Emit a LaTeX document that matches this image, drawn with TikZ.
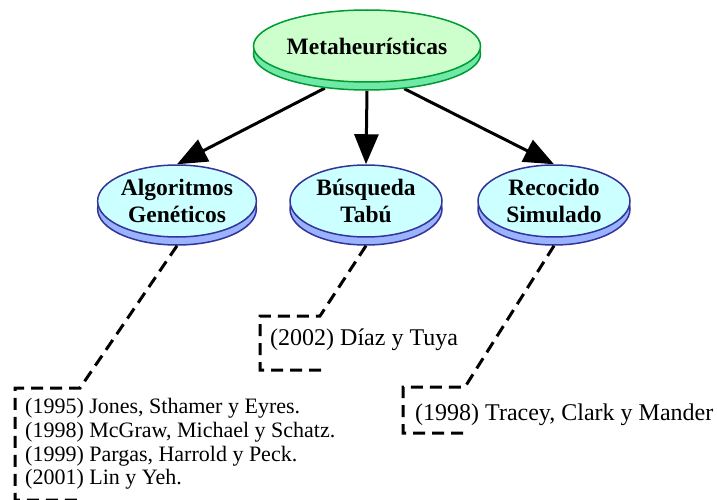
\documentclass[tikz,border=0pt]{standalone}
\usepackage{fontspec}
\setmainfont{Liberation Serif}
\usetikzlibrary{shapes.geometric,arrows.meta}
\pgfdeclarelayer{background}
\pgfsetlayers{background,main}
\definecolor{gfill}{HTML}{CCFFCC}
\definecolor{gside}{HTML}{70E8A8}
\definecolor{gline}{HTML}{009A33}
\definecolor{bfill}{HTML}{CCFFFF}
\definecolor{bside}{HTML}{99B3FF}
\definecolor{bline}{HTML}{333399}
\tikzset{
  disk/.style={ellipse, inner sep=0pt, line width=1.5pt,
    font=\bfseries\fontsize{23.5}{27}\selectfont, align=center},
  greendisk/.style={disk, draw=gline, fill=gfill,
    preaction={fill=gside, draw=gline, line width=1.5pt, transform canvas={yshift=-8pt}}},
  bluedisk/.style={disk, draw=bline, fill=bfill,
    preaction={fill=bside, draw=bline, line width=1.5pt, transform canvas={yshift=-8pt}}},
  arr/.style={line width=3pt, -{Triangle[length=30pt,width=24pt]}},
  leader/.style={line width=3pt, dash pattern=on 12pt off 7pt},
  ref/.style={anchor=base west, inner sep=0pt, font=\fontsize{22}{24}\selectfont},
  bigref/.style={ref, font=\fontsize{24}{26}\selectfont}
}
\begin{document}
\begin{tikzpicture}[x=1pt,y=-1pt]
\useasboundingbox (0,0) rectangle (717,500);
\node[greendisk, minimum width=190pt, minimum height=72pt] (meta) at (367,46) {Metaheurísticas};
\node[bluedisk, minimum width=152pt, minimum height=72pt] (alg) at (177,201) {Algoritmos\\Genéticos};
\node[bluedisk, minimum width=152pt, minimum height=72pt] (bus) at (366,201) {Búsqueda\\Tabú};
\node[bluedisk, minimum width=152pt, minimum height=72pt] (rec) at (554,201) {Recocido\\Simulado};
\begin{pgfonlayer}{background}
\draw[arr] ([yshift=-8pt]meta.219) -- (alg.north);
\draw[arr] ([yshift=-8pt]meta.270) -- (bus.north);
\draw[arr] ([yshift=-8pt]meta.317) -- (rec.north);
\end{pgfonlayer}
% references
\node[ref] (r1) at (25,413) {(1995) Jones, Sthamer y Eyres.};
\node[ref] (r2) at (25,437) {(1998) McGraw, Michael y Schatz.};
\node[ref] (r3) at (25,461) {(1999) Pargas, Harrold y Peck.};
\node[ref] (r4) at (25,484) {(2001) Lin y Yeh.};
\node[bigref] (r5) at (270,345) {(2002) Díaz y Tuya};
\node[bigref] (r6) at (415,420) {(1998) Tracey, Clark y Mander};
% leader corners
\coordinate (a1) at (80,388);
\coordinate (a2) at (15,388);
\coordinate (a3) at (15,500);
\coordinate (a4) at (80,500);
\coordinate (b1) at (320,316);
\coordinate (b2) at (260,316);
\coordinate (b3) at (260,370);
\coordinate (b4) at (322,370);
\coordinate (c1) at (465,387);
\coordinate (c2) at (403,387);
\coordinate (c3) at (403,433);
\coordinate (c4) at (467,433);
\draw[leader] ([yshift=-8pt]alg.south) -- (a1) -- (a2) -- (a3) -- (a4);
\draw[leader] ([yshift=-8pt]bus.south) -- (b1) -- (b2) -- (b3) -- (b4);
\draw[leader] ([yshift=-8pt]rec.south) -- (c1) -- (c2) -- (c3) -- (c4);
\end{tikzpicture}
\end{document}
